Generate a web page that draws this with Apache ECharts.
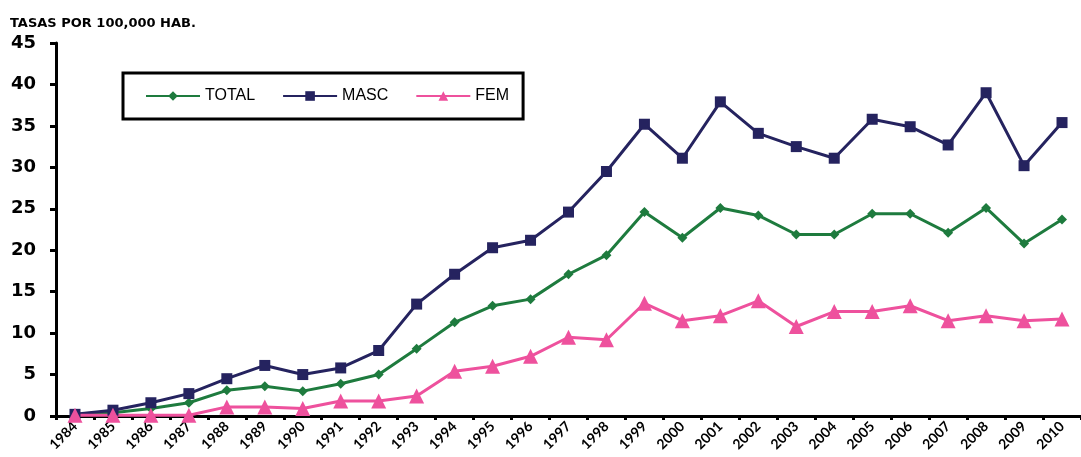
<!DOCTYPE html>
<html><head><meta charset="utf-8">
<script src="https://cdn.jsdelivr.net/npm/echarts@6/dist/echarts.min.js"></script>
<style>html,body{margin:0;padding:0;background:#fff}#c{width:1081px;height:457px}</style>
</head><body><div id="c"></div>
<script>
const years = ['1984','1985','1986','1987','1988','1989','1990','1991','1992','1993','1994','1995','1996','1997','1998','1999','2000','2001','2002','2003','2004','2005','2006','2007','2008','2009','2010'];
const total = [0.1,0.4,0.9,1.6,3.1,3.6,3.0,3.9,5.0,8.1,11.3,13.3,14.1,17.1,19.4,24.6,21.5,25.1,24.2,21.9,21.9,24.4,24.4,22.1,25.1,20.8,23.7];
const masc = [0.2,0.7,1.6,2.7,4.5,6.1,5.0,5.8,7.9,13.5,17.1,20.3,21.2,24.6,29.5,35.2,31.1,37.9,34.1,32.5,31.1,35.8,34.9,32.7,39.0,30.2,35.4];
const fem = [0.1,0.1,0.1,0.1,1.1,1.1,0.9,1.8,1.8,2.4,5.4,6.0,7.2,9.5,9.2,13.6,11.5,12.1,13.9,10.8,12.6,12.6,13.3,11.5,12.1,11.5,11.7];
const yTicks = [0,5,10,15,20,25,30,35,40,45];

const chart = echarts.init(document.getElementById('c'));
chart.setOption({
  animation:false,
  backgroundColor:'#fff',
  title:{text:'TASAS POR 100,000 HAB.',left:5,top:12,textStyle:{fontFamily:'DejaVu Sans',fontWeight:'bold',fontSize:13,color:'#000'}},
  legend:{left:123,top:73,orient:'horizontal',borderColor:'#000',borderWidth:3,padding:[15,14,15,22],itemGap:27,itemWidth:54,itemHeight:12,
    textStyle:{fontFamily:'Liberation Sans',fontSize:16,color:'#000'},
    data:['TOTAL','MASC','FEM']},
  grid:{left:56,top:43,bottom:41,width:1031,containLabel:false},
  xAxis:{type:'category',data:years,boundaryGap:true,
    axisLine:{lineStyle:{color:'#000',width:3}},
    axisTick:{show:true,length:4,lineStyle:{color:'#000',width:3},alignWithLabel:false},
    axisLabel:{rotate:45,fontFamily:'Lato',fontWeight:'bold',fontSize:14,color:'#000',margin:8,interval:0}},
  yAxis:{type:'value',min:0,max:45,interval:5,
    axisLine:{show:true,lineStyle:{color:'#000',width:3}},
    axisTick:{show:true,length:6,lineStyle:{color:'#000',width:3}},
    splitLine:{show:false},
    axisLabel:{fontFamily:'DejaVu Sans',fontWeight:'bold',fontSize:18,color:'#000',margin:20}},
  series:[
    {name:'TOTAL',type:'line',data:total,color:'#1e7b3e',lineStyle:{width:3},symbol:'diamond',symbolSize:10,itemStyle:{color:'#1e7b3e'}},
    {name:'MASC',type:'line',data:masc,color:'#25235f',lineStyle:{width:3},symbol:'rect',symbolSize:11,itemStyle:{color:'#25235f'}},
    {name:'FEM',type:'line',data:fem,color:'#ee519d',lineStyle:{width:3},symbol:'triangle',symbolSize:15,itemStyle:{color:'#ee519d'}}
  ]
});
</script></body></html>
